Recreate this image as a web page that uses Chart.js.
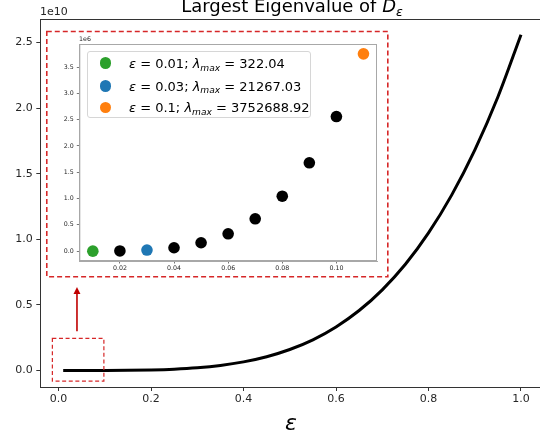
<!DOCTYPE html>
<html><head><meta charset="utf-8">
<script src="https://cdn.jsdelivr.net/npm/chart.js@4/dist/chart.umd.min.js"></script>
<style>
html,body{margin:0;padding:0;background:#fff;overflow:hidden;}
#wrap{position:relative;width:540px;height:433px;font-family:"DejaVu Sans",sans-serif;}
canvas{position:absolute;}
.txt{position:absolute;white-space:nowrap;color:#000;line-height:1;}
.it{font-style:italic;}
#legend{position:absolute;left:87px;top:51px;width:224px;height:67px;border:1px solid #d6d6d6;border-radius:3px;background:rgba(255,255,255,0.85);box-sizing:border-box;}
.row{position:absolute;left:0;height:13px;line-height:13px;font-size:13px;white-space:nowrap;}
.dot{position:absolute;width:11.6px;height:11.6px;border-radius:50%;left:11.5px;top:0.7px;}
.lt{position:absolute;left:41px;top:0;}
.sub{font-size:0.7em;position:relative;top:0.32em;font-style:italic;}
</style></head><body>
<div id="wrap">
<canvas id="main" width="540" height="433" style="left:0;top:0"></canvas>
<canvas id="inset" width="341" height="246" style="left:47px;top:31px"></canvas>
<div class="txt" id="title" style="font-size:18px;left:292px;top:-3.2px;transform:translateX(-50%);">Largest Eigenvalue of <span class="it">D</span><span class="sub">ε</span></div>
<div class="txt" style="font-size:11px;left:40px;top:6px;color:#262626;">1e10</div>
<div class="txt it" style="font-size:22px;left:291px;top:412px;transform:translateX(-50%);">ε</div>
<div class="txt" style="font-size:6.3px;left:79px;top:35.5px;color:#262626;">1e6</div>
<div id="legend"></div>
</div>
<script>
// ---- main curve: epsilon vs largest eigenvalue ----
const mainEps = [0.01,0.05,0.10,0.15,0.20,0.25,0.30,0.35,0.40,0.45,0.50,0.55,0.60,0.65,0.70,0.75,0.80,0.85,0.90,0.95,1.00];
const mainLambda = [0, 0.00002e10, 0.00026e10, 0.0013e10, 0.0041e10, 0.010e10, 0.0207e10, 0.0384e10, 0.0655e10, 0.105e10, 0.160e10, 0.234e10, 0.332e10, 0.457e10, 0.615e10, 0.81e10, 1.049e10, 1.337e10, 1.68e10, 2.085e10, 2.56e10];
const mainXTicks = [0,0.2,0.4,0.6,0.8,1.0];
const mainYTicks = [0,0.5e10,1.0e10,1.5e10,2.0e10,2.5e10];

// ---- inset: zoom on small epsilon ----
const insetEps = [0.02,0.04,0.05,0.06,0.07,0.08,0.09,0.10];
const insetLambda = [4100, 65000, 160000, 330000, 615000, 1045000, 1680000, 2560000];
const highlightEps = [0.01, 0.03, 0.11];
const highlightLambda = [322.04, 21267.03, 3752688.92];
const highlightLabelEps = ['0.01','0.03','0.1'];
const highlightLabelLambda = ['322.04','21267.03','3752688.92'];
const insetXTicks = [0.02,0.04,0.06,0.08,0.10];
const insetYTicks = [0,0.5e6,1.0e6,1.5e6,2.0e6,2.5e6,3.0e6,3.5e6];

const highlightColors = ['#2ca02c','#1f77b4','#ff7f0e'];
const FAM = '"DejaVu Sans", sans-serif';

const annot = {
  id:'annot',
  afterDraw(c){
    const ctx=c.ctx, xs=c.scales.x, ys=c.scales.y, a=c.chartArea;
    ctx.save();
    ctx.strokeStyle='#333'; ctx.lineWidth=1; ctx.setLineDash([]);
    ctx.beginPath(); ctx.moveTo(a.left,a.top+0.5); ctx.lineTo(a.right,a.top+0.5); ctx.stroke();
    const box=(x0,x1,y0,y1,lw,dash)=>{
      ctx.setLineDash(dash); ctx.lineWidth=lw; ctx.strokeStyle='#d62728';
      const px0=xs.getPixelForValue(x0), px1=xs.getPixelForValue(x1);
      const py0=ys.getPixelForValue(y0), py1=ys.getPixelForValue(y1);
      ctx.strokeRect(px0,py1,px1-px0,py0-py1);
    };
    box(-0.0255,0.712,0.715e10,2.585e10,1.6,[5,3]);
    box(-0.0134,0.098,-0.081e10,0.245e10,1.2,[4,2.6]);
    // arrow
    ctx.setLineDash([]);
    const ax=xs.getPixelForValue(0.0398), ay0=ys.getPixelForValue(0.30e10), ay1=ys.getPixelForValue(0.637e10);
    ctx.strokeStyle='#c00000'; ctx.fillStyle='#c00000'; ctx.lineWidth=1.6;
    ctx.beginPath(); ctx.moveTo(ax,ay0); ctx.lineTo(ax,ay1+6); ctx.stroke();
    ctx.beginPath(); ctx.moveTo(ax,ay1); ctx.lineTo(ax-3.5,ay1+7); ctx.lineTo(ax+3.5,ay1+7); ctx.closePath(); ctx.fill();
    ctx.restore();
  }
};

new Chart(document.getElementById('main'), {
  type:'scatter',
  data:{datasets:[{
    data: mainEps.map((e,i)=>({x:e,y:mainLambda[i]})),
    showLine:true, borderColor:'#000', borderWidth:3, pointRadius:0,
    cubicInterpolationMode:'monotone', tension:0.4, fill:false
  }]},
  options:{
    responsive:false, animation:false, devicePixelRatio:1,
    layout:{padding:{top:19,right:0,left:0,bottom:0}},
    plugins:{legend:{display:false}, tooltip:{enabled:false}},
    scales:{
      x:{type:'linear', min:-0.0395, max:1.0411,
        afterBuildTicks:s=>{s.ticks=mainXTicks.map(v=>({value:v}));},
        afterFit:s=>{s.height=46;},
        ticks:{callback:v=>Number(v).toFixed(1), font:{family:FAM,size:11}, color:'#262626', padding:2, maxRotation:0, autoSkip:false},
        grid:{drawOnChartArea:false, tickLength:4, color:'#333'},
        border:{color:'#333', width:1}},
      y:{type:'linear', min:-0.126e10, max:2.68e10,
        afterBuildTicks:s=>{s.ticks=mainYTicks.map(v=>({value:v}));},
        afterFit:s=>{s.width=40.3;},
        ticks:{callback:v=>(v/1e10).toFixed(1), font:{family:FAM,size:11}, color:'#262626', padding:3.5, autoSkip:false},
        grid:{drawOnChartArea:false, tickLength:4, color:'#333'},
        border:{color:'#333', width:1}}
    }
  },
  plugins:[annot]
});

const frame = {
  id:'frame',
  afterDraw(c){
    const ctx=c.ctx, a=c.chartArea;
    ctx.save(); ctx.strokeStyle='#a8a8a8'; ctx.lineWidth=1;
    ctx.strokeRect(a.left+0.5,a.top+0.5,a.right-a.left-1,a.bottom-a.top-1);
    ctx.restore();
  }
};

new Chart(document.getElementById('inset'), {
  type:'scatter',
  data:{datasets:[
    {data: insetEps.map((e,i)=>({x:e,y:insetLambda[i]})), backgroundColor:'#000', borderColor:'#000', borderWidth:0, pointRadius:5.8},
    ...highlightEps.map((e,i)=>({data:[{x:e,y:highlightLambda[i]}], backgroundColor:highlightColors[i], borderColor:highlightColors[i], borderWidth:0, pointRadius:5.8}))
  ]},
  options:{
    responsive:false, animation:false, devicePixelRatio:1,
    layout:{padding:{top:13,right:11,left:0,bottom:0}},
    plugins:{legend:{display:false}, tooltip:{enabled:false}},
    scales:{
      x:{type:'linear', min:0.005, max:0.115,
        afterBuildTicks:s=>{s.ticks=insetXTicks.map(v=>({value:v}));},
        afterFit:s=>{s.height=16;},
        ticks:{callback:v=>Number(v).toFixed(2), font:{family:FAM,size:6.3}, color:'#262626', padding:1.5, maxRotation:0, autoSkip:false},
        grid:{drawOnChartArea:false, tickLength:2.5, color:'#777'},
        border:{color:'#a8a8a8', width:1}},
      y:{type:'linear', min:-0.1873e6, max:3.94e6,
        afterBuildTicks:s=>{s.ticks=insetYTicks.map(v=>({value:v}));},
        afterFit:s=>{s.width=32.3;},
        ticks:{callback:v=>(v/1e6).toFixed(1), font:{family:FAM,size:6.3}, color:'#262626', padding:3, autoSkip:false},
        grid:{drawOnChartArea:false, tickLength:2.5, color:'#777'},
        border:{color:'#a8a8a8', width:1}}
    }
  },
  plugins:[frame]
});

// legend
const lg=document.getElementById('legend');
const rowCenters=[11.3,34,55.7];
highlightEps.forEach((e,i)=>{
  const r=document.createElement('div'); r.className='row'; r.style.top=(rowCenters[i]-6.5)+'px'; r.style.width='100%';
  const d=document.createElement('span'); d.className='dot'; d.style.background=highlightColors[i];
  const t=document.createElement('span'); t.className='lt';
  t.innerHTML='<i>ε</i> = '+highlightLabelEps[i]+'; <i>λ</i><span class="sub">max</span> = '+highlightLabelLambda[i];
  r.appendChild(d); r.appendChild(t); lg.appendChild(r);
});
</script>
</body></html>
